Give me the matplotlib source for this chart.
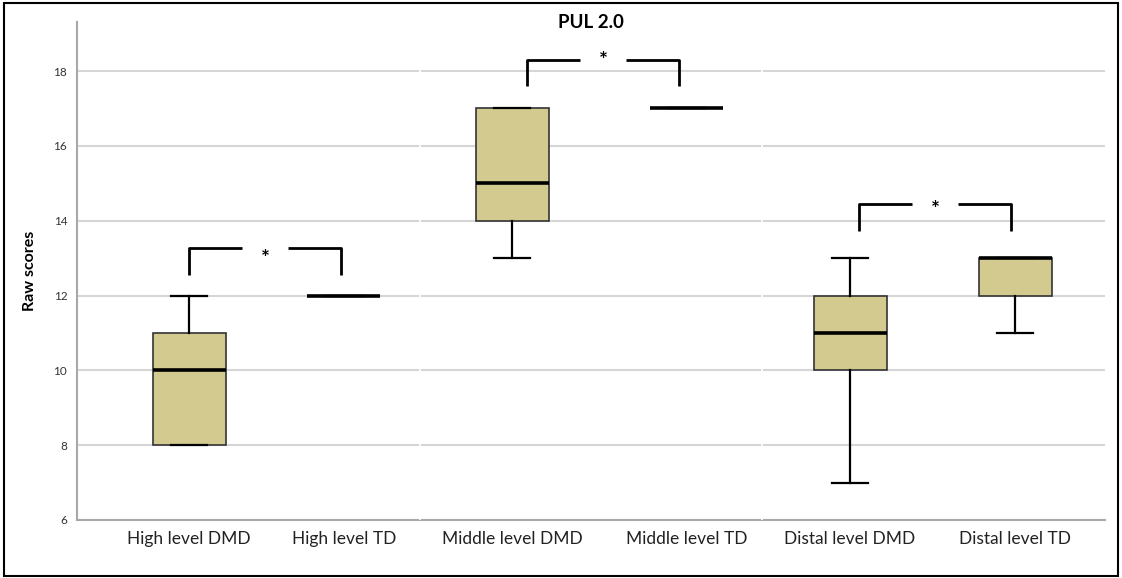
import matplotlib
matplotlib.use("Agg")
import matplotlib.pyplot as plt

plt.rcParams['font.family'] = ['Lato', 'DejaVu Sans']

groups = ['High level DMD', 'High level TD', 'Middle level DMD',
          'Middle level TD', 'Distal level DMD', 'Distal level TD']
whislo = [8, 12, 13, 17, 7, 11]
q1 = [8, 12, 14, 17, 10, 12]
med = [10, 12, 15, 17, 11, 13]
q3 = [11, 12, 17, 17, 12, 13]
whishi = [12, 12, 17, 17, 13, 13]

# significance brackets: left x, right x, top y, bottom y, star y
br_left = [0.654, 2.626, 4.564]
br_right = [1.541, 3.514, 5.451]
br_top = [13.27, 18.29, 14.44]
br_bottom = [12.55, 17.60, 13.72]
star_y = [13.16, 18.45, 14.47]

positions = [0.654, 1.558, 2.539, 3.560, 4.512, 5.475]

stats = []
for i, g in enumerate(groups):
    stats.append(dict(label=g, whislo=whislo[i], q1=q1[i], med=med[i],
                      q3=q3[i], whishi=whishi[i], fliers=[]))

fig = plt.figure(figsize=(11.22, 5.78), dpi=100)
ax = fig.add_axes([77/1122, 1-520/578, (1105-77)/1122, (520-22)/578])

ax.bxp(stats, positions=positions, widths=0.426, capwidths=0.21,
       patch_artist=True, showfliers=False,
       boxprops=dict(facecolor='#d2ca8e', edgecolor='#333333', linewidth=1.2),
       medianprops=dict(color='black', linewidth=2.6),
       whiskerprops=dict(color='black', linewidth=1.6),
       capprops=dict(color='black', linewidth=1.6))

ax.set_xlim(0, 6)
ax.set_ylim(6, 19.31)
ax.set_yticks([6, 8, 10, 12, 14, 16, 18])
ax.yaxis.grid(True, color='#d6d6d6', linewidth=1.5)
ax.set_axisbelow(True)
for x in [2.0, 4.0]:
    ax.axvline(x, color='white', linewidth=1.2, zorder=1.5)

for s in ['top', 'right']:
    ax.spines[s].set_visible(False)
for s in ['left', 'bottom']:
    ax.spines[s].set_color('#a8a8a8')
    ax.spines[s].set_linewidth(1.5)
ax.spines['bottom'].set_zorder(1)

ax.tick_params(axis='both', length=0)
ax.tick_params(axis='y', labelsize=8.5, labelcolor='#333333', pad=7)
ax.tick_params(axis='x', labelsize=12.5, labelcolor='#222222', pad=8)
ax.set_xticks(positions)
ax.set_xticklabels(groups)

ax.set_ylabel('Raw scores', fontsize=11.5, fontweight='bold', labelpad=12)

for i in range(len(br_left)):
    xl, xr, yt, yb = br_left[i], br_right[i], br_top[i], br_bottom[i]
    xm = (xl + xr) / 2
    gap = 0.135
    ax.plot([xl, xl, xm - gap], [yb, yt, yt], color='black', lw=2,
            solid_joinstyle='round', solid_capstyle='butt', clip_on=False)
    ax.plot([xm + gap, xr, xr], [yt, yt, yb], color='black', lw=2,
            solid_joinstyle='round', solid_capstyle='butt', clip_on=False)
    # asterisk glyph sits high in its box, so nudge it down
    ax.text(xm, star_y[i] - 0.19, '*', ha='center', va='center', fontsize=15,
            fontweight='bold', clip_on=False)

fig.text(591/1122, 1-23/578, 'PUL 2.0', ha='center', va='center',
         fontsize=13.5, fontweight='bold')

fig.patches.append(plt.Rectangle((4/1122, 2/578), 1114/1122, 573/578,
                                 transform=fig.transFigure, fill=False,
                                 edgecolor='black', linewidth=1.5))

fig.savefig('out.png', dpi=100)
